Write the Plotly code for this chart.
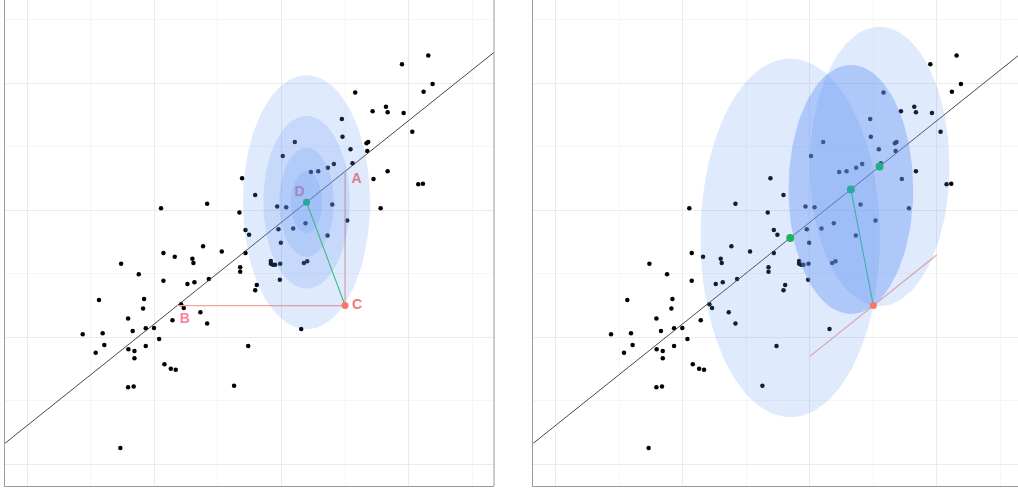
import numpy as np
import plotly.graph_objects as go

# Observations
obs_x = [3.155, 2.948, 3.189, 3.118, 2.580, 2.717, 2.822, 2.835, 2.961, 2.475,
         3.029, 2.480, 2.105, 2.669, 2.682, 2.543, 2.675, 2.010, 2.559, 2.412,
         2.365, 2.231, 2.289, 2.835, 2.724, 1.690, 3.076, 3.113, 1.793, 1.415,
         1.052, 1.669, 1.966, 2.037, 2.399, 2.780, 2.517, 2.189, 2.092, 1.976,
         1.717, 1.745, 2.362, 1.995, 1.383, 1.530, 1.717, 1.071, 1.160, 1.299,
         1.307, 0.738, 1.916, 1.916, 1.932, 1.950, 1.990, 2.176, 2.202, 1.675,
         1.675, 0.877, 1.428, 1.071, 1.315, 1.260, 1.987, 1.806, 1.793, 0.564,
         0.919, 0.911, 1.210, 1.231, 1.362, 0.793, 1.142, 1.415, 0.829, 0.932,
         0.997, 2.155, 0.436, 0.593, 1.037, 0.606, 0.932, 1.738, 0.795, 0.843,
         0.538, 0.843, 1.079, 1.129, 1.168, 1.627, 0.793, 0.837, 0.732]
obs_y = [3.218, 3.150, 2.995, 2.934, 2.927, 2.780, 2.816, 2.772, 2.766, 2.719,
         2.619, 2.580, 2.538, 2.528, 2.538, 2.480, 2.467, 2.428, 2.370, 2.365,
         2.336, 2.302, 2.307, 2.307, 2.247, 2.252, 2.205, 2.210, 2.121, 2.052,
         2.016, 1.982, 2.029, 2.024, 2.045, 2.016, 1.919, 1.898, 1.856, 1.850,
         1.845, 1.808, 1.801, 1.745, 1.717, 1.675, 1.664, 1.664, 1.635, 1.619,
         1.585, 1.580, 1.601, 1.580, 1.572, 1.572, 1.580, 1.585, 1.598, 1.551,
         1.517, 1.496, 1.459, 1.446, 1.433, 1.420, 1.454, 1.412, 1.370, 1.294,
         1.302, 1.226, 1.260, 1.231, 1.197, 1.147, 1.134, 1.108, 1.050, 1.071,
         1.073, 1.066, 1.024, 1.031, 0.987, 0.940, 0.932, 0.932, 0.906, 0.892,
         0.879, 0.835, 0.787, 0.753, 0.745, 0.619, 0.606, 0.612, 0.129]

# Fitted line y = a + b x
line_intercept = 0.306
line_slope = 0.8

# Observed point C and the candidate point D on the line
point_c = (2.50, 1.25)
point_d_x = 2.197

# Error ellipse shape (semi-axes at scale 1) and nested contour scales
ell_sx, ell_sy = 0.5, 1.0
left_scales = [1.0, 0.68, 0.43, 0.245]

# Candidate points on the line (right panel)
cand_x = [1.846, 2.549, 2.323]
cand_colors = ["#1fb35c", "#27ae86", "#2fa8a2"]
cand_alpha = [0.2, 0.2, 0.4]

labels = ["A", "B", "C", "D"]

X_RANGE = [-0.1755, 3.672]
Y_RANGE = [-0.171, 3.656]
BLUE = "100,150,245"
RED = "#F8766D"
SEG = "#f5a29c"


def line_y(x):
    return line_intercept + line_slope * np.asarray(x)


def ellipse(cx, cy, k, n=120):
    t = np.linspace(0, 2 * np.pi, n)
    return cx + k * ell_sx * np.cos(t), cy + k * ell_sy * np.sin(t)


fig = go.Figure()
cx, cy = point_c

# ---------------- left panel ----------------
xa, ya = "x", "y"
fig.add_trace(go.Scatter(x=obs_x, y=obs_y, mode="markers", xaxis=xa, yaxis=ya,
                         marker=dict(size=4.5, color="black")))
fig.add_trace(go.Scatter(x=X_RANGE, y=line_y(X_RANGE), mode="lines", xaxis=xa, yaxis=ya,
                         line=dict(color="#333333", width=0.9)))
a_y = float(line_y(cx))
b_x = (cy - line_intercept) / line_slope
fig.add_trace(go.Scatter(x=[b_x, cx, cx], y=[cy, cy, a_y], mode="lines", xaxis=xa, yaxis=ya,
                         line=dict(color=SEG, width=1.2)))
d_y = float(line_y(point_d_x))
lab_x = [cx + 0.09, b_x + 0.06, cx + 0.095, point_d_x - 0.055]
lab_y = [a_y - 0.066, cy - 0.107, cy, d_y + 0.08]
fig.add_trace(go.Scatter(x=lab_x, y=lab_y, mode="text", text=labels, xaxis=xa, yaxis=ya,
                         textfont=dict(family="Liberation Sans", size=14, weight="bold",
                                       color=[RED, "#FF7F98", RED, RED])))
for k in left_scales:
    ex, ey = ellipse(point_d_x, d_y, k)
    fig.add_trace(go.Scatter(x=ex, y=ey, mode="lines", fill="toself", xaxis=xa, yaxis=ya,
                             fillcolor=f"rgba({BLUE},0.2)", line=dict(width=0)))
fig.add_trace(go.Scatter(x=[cx, point_d_x], y=[cy, d_y], mode="lines", xaxis=xa, yaxis=ya,
                         line=dict(color="#3dba85", width=1.1)))
fig.add_trace(go.Scatter(x=[point_d_x], y=[d_y], mode="markers", xaxis=xa, yaxis=ya,
                         marker=dict(size=7, color="#2ba69a")))
fig.add_trace(go.Scatter(x=[cx], y=[cy], mode="markers", xaxis=xa, yaxis=ya,
                         marker=dict(size=7, color=RED)))

# ---------------- right panel ----------------
xa, ya = "x2", "y2"
fig.add_trace(go.Scatter(x=obs_x, y=obs_y, mode="markers", xaxis=xa, yaxis=ya,
                         marker=dict(size=4.5, color="black")))
fig.add_trace(go.Scatter(x=X_RANGE, y=line_y(X_RANGE), mode="lines", xaxis=xa, yaxis=ya,
                         line=dict(color="#333333", width=0.9)))
# tangent through C, parallel to the fitted line
tx = [cx - 0.5, cx + 0.5]
fig.add_trace(go.Scatter(x=tx, y=[cy + line_slope * (t - cx) for t in tx], mode="lines",
                         xaxis=xa, yaxis=ya, line=dict(color=SEG, width=1.1)))
for gx, alpha in zip(cand_x, cand_alpha):
    gy = float(line_y(gx))
    # scale so that the ellipse passes through C
    k = np.hypot((cx - gx) / ell_sx, (cy - gy) / ell_sy)
    ex, ey = ellipse(gx, gy, k)
    fig.add_trace(go.Scatter(x=ex, y=ey, mode="lines", fill="toself", xaxis=xa, yaxis=ya,
                             fillcolor=f"rgba({BLUE},{alpha})", line=dict(width=0)))
best_x = cand_x[2]
fig.add_trace(go.Scatter(x=[cx, best_x], y=[cy, float(line_y(best_x))], mode="lines",
                         xaxis=xa, yaxis=ya, line=dict(color="#3ab3ae", width=1.1)))
fig.add_trace(go.Scatter(x=cand_x, y=line_y(cand_x), mode="markers", xaxis=xa, yaxis=ya,
                         marker=dict(size=8, color=cand_colors)))
fig.add_trace(go.Scatter(x=[cx], y=[cy], mode="markers", xaxis=xa, yaxis=ya,
                         marker=dict(size=7, color=RED)))

W, H = 1018, 491
axis_common = dict(showticklabels=False, ticks="", zeroline=False, showgrid=True,
                   gridcolor="#ebebeb", gridwidth=1, dtick=1, tick0=0,
                   minor=dict(dtick=0.5, showgrid=True, gridcolor="#f5f5f5", gridwidth=1),
                   showline=True, linecolor="#9a9a9a", linewidth=1)
y_dom = [(H - 486) / H, 1.0]
right_w = (1018 - 533.3) / 127.1
fig.update_layout(
    width=W, height=H, margin=dict(l=0, r=0, t=0, b=0, pad=0),
    paper_bgcolor="white", plot_bgcolor="white", showlegend=False,
    xaxis=dict(axis_common, domain=[5 / W, 494 / W], range=X_RANGE, anchor="y"),
    yaxis=dict(axis_common, domain=y_dom, range=Y_RANGE, anchor="x"),
    xaxis2=dict(axis_common, domain=[533.3 / W, 1.0],
                range=[X_RANGE[0], X_RANGE[0] + right_w], anchor="y2"),
    yaxis2=dict(axis_common, domain=y_dom, range=Y_RANGE, anchor="x2"),
    shapes=[dict(type="line", xref="x domain", yref="y domain", x0=1, x1=1, y0=0, y1=1,
                 line=dict(color="#9a9a9a", width=1))],
)

fig.write_html("out.html", config={"displayModeBar": False})
